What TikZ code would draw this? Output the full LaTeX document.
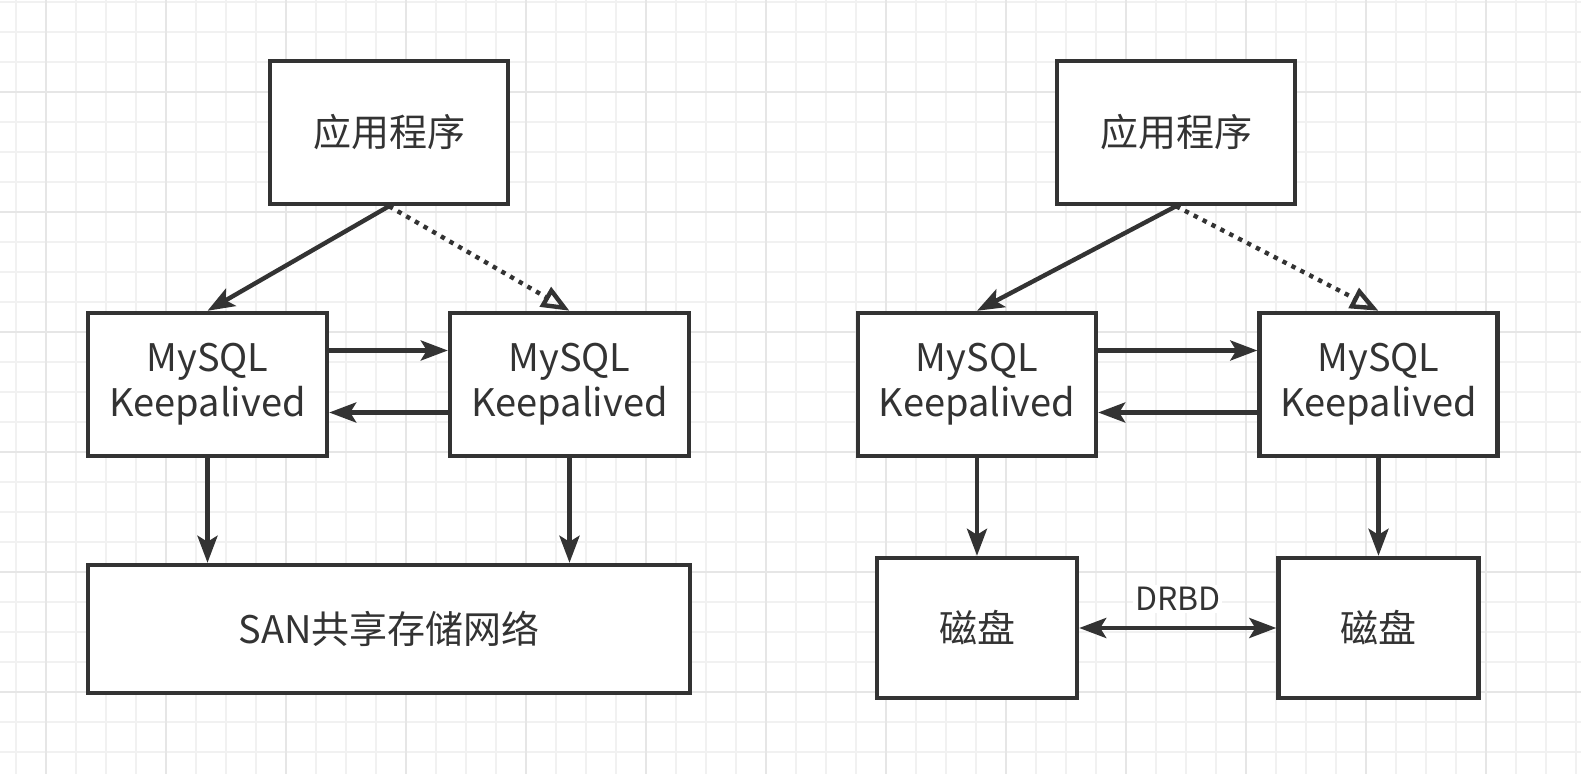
\documentclass[tikz,border=0pt]{standalone}
\usepackage{fontspec}
\newfontfamily\cjkfont{Noto Sans CJK SC}
\usetikzlibrary{arrows.meta}
\definecolor{linegray}{HTML}{333333}
\definecolor{gridminor}{HTML}{F1F1F1}
\definecolor{gridmajor}{HTML}{E6E6E6}
\tikzset{
	box/.style={draw=linegray,line width=2.2pt,fill=white,inner sep=0pt,minimum width=119pt,minimum height=71.5pt,text=linegray,align=center,font=\cjkfont\fontsize{19}{22.5}\selectfont},
	link/.style={draw=linegray,line width=2.2pt,-{Stealth[length=13.5pt,width=10pt,inset=3pt]}},
	both/.style={draw=linegray,line width=2.2pt,{Stealth[length=13.5pt,width=10pt,inset=3pt]}-{Stealth[length=13.5pt,width=10pt,inset=3pt]}},
	backup/.style={draw=linegray,line width=2.2pt,dash pattern=on 2.2pt off 2.8pt,-{Triangle[open,length=14pt,width=11pt]}}
}

\begin{document}
\begin{tikzpicture}[x=0.5pt,y=-0.5pt]
	\useasboundingbox (0,0) rectangle (1581,774);
	\fill[white] (0,0) rectangle (1581,774);
	\foreach \i in {0,...,52}
		\draw[gridminor,line width=1.2pt] (16+30*\i,0) -- (16+30*\i,774);
	\foreach \i in {0,...,25}
		\draw[gridminor,line width=1.2pt] (0,2+30*\i) -- (1581,2+30*\i);
	\foreach \i in {0,...,12}
		\draw[gridmajor,line width=1.2pt] (46+120*\i,0) -- (46+120*\i,774);
	\foreach \i in {0,...,5}
		\draw[gridmajor,line width=1.2pt] (0,92+120*\i) -- (1581,92+120*\i);

	\node[box] (lapp) at (389,132.5) {应用程序};
	\node[box,minimum width=119.5pt] (lm1) at (207.5,384.5) {MySQL\\Keepalived};
	\node[box,minimum width=119.5pt] (lm2) at (569.5,384.5) {MySQL\\Keepalived};
	\node[box,minimum width=301pt,minimum height=64pt] (san) at (389,629) {SAN共享存储网络};

	\node[box] (rapp) at (1176,132.5) {应用程序};
	\node[box] (rm1) at (977,384.5) {MySQL\\Keepalived};
	\node[box] (rm2) at (1378.5,384.5) {MySQL\\Keepalived};
	\node[box,minimum width=100pt,minimum height=70pt] (ldisk) at (977,628) {磁盘};
	\node[box,minimum width=100pt,minimum height=70pt] (rdisk) at (1378.5,628) {磁盘};

	\draw[link] (lapp.south) -- (lm1.north);
	\draw[backup] (lapp.south) -- (lm2.north);
	\draw[link] ([yshift=17pt]lm1.east) -- ([yshift=17pt]lm2.west);
	\draw[link] ([yshift=-14pt]lm2.west) -- ([yshift=-14pt]lm1.east);
	\draw[link] (lm1.south) -- (lm1.south |- san.north);
	\draw[link] (lm2.south) -- (lm2.south |- san.north);

	\draw[link] (rapp.south) -- (rm1.north);
	\draw[backup] (rapp.south) -- (rm2.north);
	\draw[link] ([yshift=17pt]rm1.east) -- ([yshift=17pt]rm2.west);
	\draw[link] ([yshift=-14pt]rm2.west) -- ([yshift=-14pt]rm1.east);
	\draw[link] (rm1.south) -- (ldisk.north);
	\draw[link] (rm2.south) -- (rdisk.north);
	\draw[both] (ldisk.east) -- node[midway,yshift=14.5pt,fill=white,inner sep=1pt,text=linegray,font=\cjkfont\fontsize{16}{19}\selectfont] (drbd) {DRBD} (rdisk.west);
\end{tikzpicture}
\end{document}
